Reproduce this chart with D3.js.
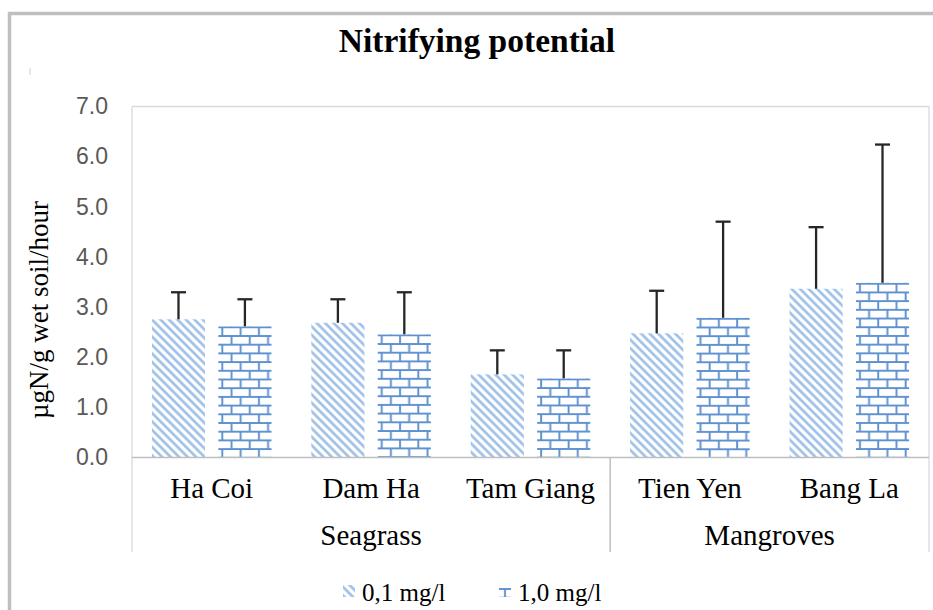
<!DOCTYPE html>
<html>
<head>
<meta charset="utf-8">
<script src="https://cdn.jsdelivr.net/npm/d3@7"></script>
<style>
  html, body { margin: 0; padding: 0; background: #fff; }
  svg { display: block; }
</style>
</head>
<body>
<svg id="chart" width="933" height="610"></svg>
<script>
// ---- data ----
const titleText = "Nitrifying potential";
const yAxisTitle = "\u00b5gN/g wet soil/hour";
const categories = ["Ha Coi", "Dam Ha", "Tam Giang", "Tien Yen", "Bang La"];
const categoryGroup = ["Seagrass", "Seagrass", "Seagrass", "Mangroves", "Mangroves"];
const groupNames = ["Seagrass", "Mangroves"];
const seriesNames = ["0,1 mg/l", "1,0 mg/l"];
const values01 = [2.75, 2.68, 1.65, 2.47, 3.36];
const values10 = [2.61, 2.45, 1.57, 2.78, 3.48];
const err01 = [0.54, 0.47, 0.48, 0.85, 1.23];
const err10 = [0.54, 0.84, 0.56, 1.92, 2.76];
const yTicks = [0, 1, 2, 3, 4, 5, 6, 7];

// ---- setup ----
const svg = d3.select("#chart");
const serif = "'Liberation Serif', 'Times New Roman', serif";
const sans = "'Liberation Sans', Arial, sans-serif";
const plotLeft = 132, plotRight = 929, plotTop = 106.5, plotBottom = 457, catBottom = 552;

const x0 = d3.scaleBand().domain(categories).range([plotLeft, plotRight])
  .paddingInner(0.25).paddingOuter(0.125);
const x1 = d3.scaleBand().domain(seriesNames).range([0, x0.bandwidth()]).paddingInner(0.2);
const y = d3.scaleLinear().domain([0, 7]).range([plotBottom, plotTop]);

const rows = [];
categories.forEach((c, i) => {
  rows.push({cat: c, s: seriesNames[0], v: values01[i], e: err01[i], idx: i});
  rows.push({cat: c, s: seriesNames[1], v: values10[i], e: err10[i], idx: i});
});

// ---- patterns ----
const defs = svg.append("defs");
const diag = defs.append("pattern").attr("id", "diag")
  .attr("patternUnits", "userSpaceOnUse").attr("width", 6).attr("height", 12)
  .attr("patternTransform", "rotate(-45)");
diag.append("line").attr("x1", 1.5).attr("y1", 0).attr("x2", 1.5).attr("y2", 12)
  .attr("stroke", "#98bce6").attr("stroke-width", 2.5);

const brickW = 18.3, brickH = 8.7, brickColor = "#5b8fd0";
function brickPattern(id, ox, oy) {
  const p = defs.append("pattern").attr("id", id)
    .attr("patternUnits", "userSpaceOnUse")
    .attr("x", ox).attr("y", oy)
    .attr("width", brickW).attr("height", brickH * 2);
  const g = p.append("g").attr("stroke", brickColor).attr("stroke-width", 1.9).attr("fill", "none");
  g.append("line").attr("x1", 0).attr("x2", brickW).attr("y1", 1).attr("y2", 1);
  g.append("line").attr("x1", 0).attr("x2", brickW).attr("y1", 1 + brickH).attr("y2", 1 + brickH);
  g.append("line").attr("x1", 4).attr("x2", 4).attr("y1", 1).attr("y2", 1 + brickH);
  g.append("line").attr("x1", 4 + brickW / 2).attr("x2", 4 + brickW / 2).attr("y1", 1 + brickH).attr("y2", 1 + 2 * brickH);
  return "url(#" + id + ")";
}

// ---- outer frame ----
svg.append("rect").attr("x", 9.5).attr("y", 13.5).attr("width", 960).attr("height", 640)
  .attr("fill", "none").attr("stroke", "#bfbfbf").attr("stroke-width", 3.5);
svg.append("line").attr("x1", 30).attr("x2", 30).attr("y1", 68).attr("y2", 75)
  .attr("stroke", "#d0d0d0").attr("stroke-width", 1);

// ---- title ----
svg.append("text").attr("x", 477).attr("y", 52).attr("text-anchor", "middle")
  .attr("font-family", serif).attr("font-weight", "bold").attr("font-size", 33.5)
  .attr("fill", "#000").text(titleText);

// ---- plot frame ----
const frame = svg.append("g").attr("stroke", "#d9d9d9").attr("stroke-width", 1.3).attr("fill", "none");
frame.append("line").attr("x1", plotLeft).attr("x2", plotRight).attr("y1", plotTop).attr("y2", plotTop);
frame.append("line").attr("x1", plotLeft).attr("x2", plotLeft).attr("y1", plotTop).attr("y2", catBottom);
frame.append("line").attr("x1", plotRight).attr("x2", plotRight).attr("y1", plotTop).attr("y2", catBottom);

// ---- y axis ----
const yAxis = d3.axisLeft(y).tickValues(yTicks).tickFormat(d3.format(".1f")).tickSize(0).tickPadding(0);
const yg = svg.append("g").attr("transform", "translate(108,0)").call(yAxis);
yg.select(".domain").remove();
yg.selectAll("text").attr("font-family", sans).attr("font-size", 23).attr("fill", "#595959");

svg.append("text")
  .attr("transform", "translate(48," + 310 + ") rotate(-90)")
  .attr("text-anchor", "middle").attr("font-family", serif).attr("font-size", 27)
  .attr("fill", "#000").text(yAxisTitle);

// ---- bars ----
const barG = svg.append("g");
rows.forEach((d, k) => {
  const bx = x0(d.cat) + x1(d.s);
  const by = y(d.v);
  const fill = d.s === seriesNames[0] ? "url(#diag)" : brickPattern("brick" + k, bx, by);
  barG.append("rect").attr("x", bx).attr("y", by)
    .attr("width", x1.bandwidth()).attr("height", y(0) - by).attr("fill", fill);
});

// ---- error bars ----
const errG = svg.append("g").attr("stroke", "#262626").attr("stroke-width", 2.3);
rows.forEach(d => {
  const cx = x0(d.cat) + x1(d.s) + x1.bandwidth() / 2;
  errG.append("line").attr("x1", cx).attr("x2", cx).attr("y1", y(d.v)).attr("y2", y(d.v + d.e));
  errG.append("line").attr("x1", cx - 7.5).attr("x2", cx + 7.5).attr("y1", y(d.v + d.e)).attr("y2", y(d.v + d.e));
});

// ---- category axis ----
const xAxisG = svg.append("g").attr("stroke", "#bfbfbf").attr("stroke-width", 1.5);
xAxisG.append("line").attr("x1", plotLeft).attr("x2", plotRight).attr("y1", plotBottom + 0.5).attr("y2", plotBottom + 0.5);
const groupBounds = groupNames.map(g => {
  const idx = categories.filter((c, i) => categoryGroup[i] === g);
  const first = idx[0], last = idx[idx.length - 1];
  const step = x0.step();
  const left = x0(first) - step * x0.paddingInner() / 2;
  const right = x0(last) + x0.bandwidth() + step * x0.paddingInner() / 2;
  return {name: g, left: Math.max(left, plotLeft), right: Math.min(right, plotRight)};
});
groupBounds.forEach((b, i) => {
  if (i > 0) xAxisG.append("line").attr("x1", b.left).attr("x2", b.left).attr("y1", plotBottom).attr("y2", catBottom);
});

const xAxis = d3.axisBottom(x0).tickSize(0).tickPadding(0);
const xg = svg.append("g").attr("transform", "translate(0," + 498 + ")").call(xAxis);
xg.select(".domain").remove();
xg.selectAll("text").attr("dy", 0).attr("font-family", serif).attr("font-size", 29).attr("fill", "#000");

svg.selectAll(".grp").data(groupBounds).enter().append("text")
  .attr("x", d => (d.left + d.right) / 2).attr("y", 545)
  .attr("text-anchor", "middle").attr("font-family", serif).attr("font-size", 29)
  .attr("fill", "#000").text(d => d.name);

// ---- legend ----
const legendX = [343, 499];
const leg = svg.append("g");
seriesNames.forEach((s, i) => {
  const lx = legendX[i];
  const fill = i === 0 ? "url(#diag)" : brickPattern("legbrick", lx + 2, 588);
  leg.append("rect").attr("x", lx).attr("y", 585).attr("width", 12).attr("height", 12).attr("fill", fill);
  leg.append("text").attr("x", lx + 19).attr("y", 601).attr("font-family", serif)
    .attr("font-size", 25).attr("fill", "#000").text(s);
});
</script>
</body>
</html>
